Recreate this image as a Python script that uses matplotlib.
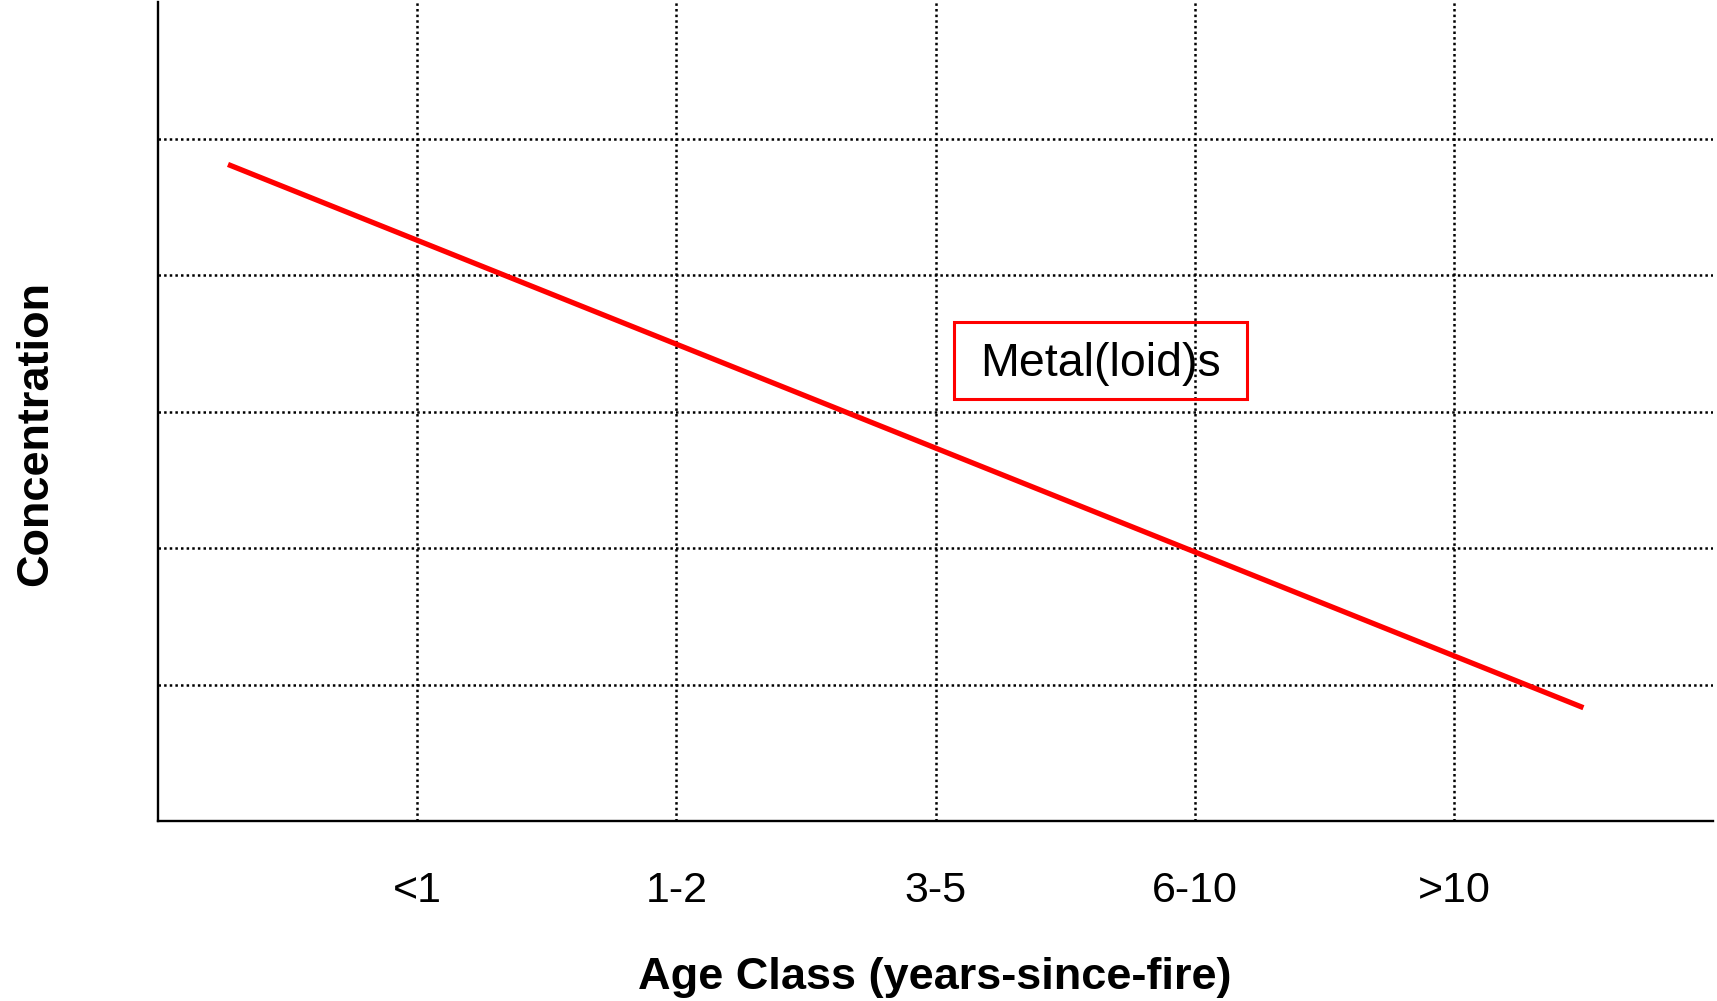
import matplotlib.pyplot as plt
from matplotlib.patches import Rectangle

# categories on the x axis and the conceptual trend line
age_classes = ["<1", "1-2", "3-5", "6-10", ">10"]
class_pos = [1, 2, 3, 4, 5]
grid_y = [1, 2, 3, 4, 5]
trend_x = [0.27, 5.50]
trend_y = [4.81, 0.83]
series_label = "Metal(loid)s"

plt.rcParams['font.family'] = ['Liberation Sans', 'DejaVu Sans']

fig = plt.figure(figsize=(17.17, 10.01), dpi=100)
ax = fig.add_axes([158 / 1717, 1 - 821 / 1001, (1713 - 158) / 1717, (821 - 2) / 1001])

ax.set_xlim(0, 6)
ax.set_ylim(0, 6)

dots = (0, (1.0, 1.25))
for x in class_pos:
    ax.axvline(x, color='black', lw=1.8, linestyle=dots, zorder=1)
for y in grid_y:
    ax.axhline(y, color='black', lw=1.8, linestyle=dots, zorder=1)

ax.plot(trend_x, trend_y, color='#ff0000', lw=3.8, solid_capstyle='butt', zorder=3)

# label box
box = Rectangle((3.07, 3.09), 1.131, 0.563, fill=False, edgecolor='#ff0000',
                lw=2.2, joinstyle='miter', zorder=4)
ax.add_patch(box)
ax.text(3.07 + 1.131 / 2, 3.09 + 0.563 / 2 - 0.02, series_label, fontsize=33.5,
        ha='center', va='center', color='black', zorder=5)

ax.set_xticks(class_pos)
ax.set_xticklabels(age_classes, fontsize=31)
ax.set_yticks([])
ax.tick_params(axis='x', length=0, pad=36)

for side in ['top', 'right']:
    ax.spines[side].set_visible(False)
for side in ['left', 'bottom']:
    ax.spines[side].set_linewidth(1.7)
    ax.spines[side].set_color('black')

fig.text(935 / 1717, 1 - 978 / 1001, "Age Class (years-since-fire)",
         fontsize=32.5, fontweight='bold', ha='center', va='center')
fig.text(36 / 1717, 1 - 434 / 1001, "Concentration", fontsize=32.5,
         fontweight='bold', rotation=90, ha='center', va='center')

fig.savefig('out.png', dpi=100)
